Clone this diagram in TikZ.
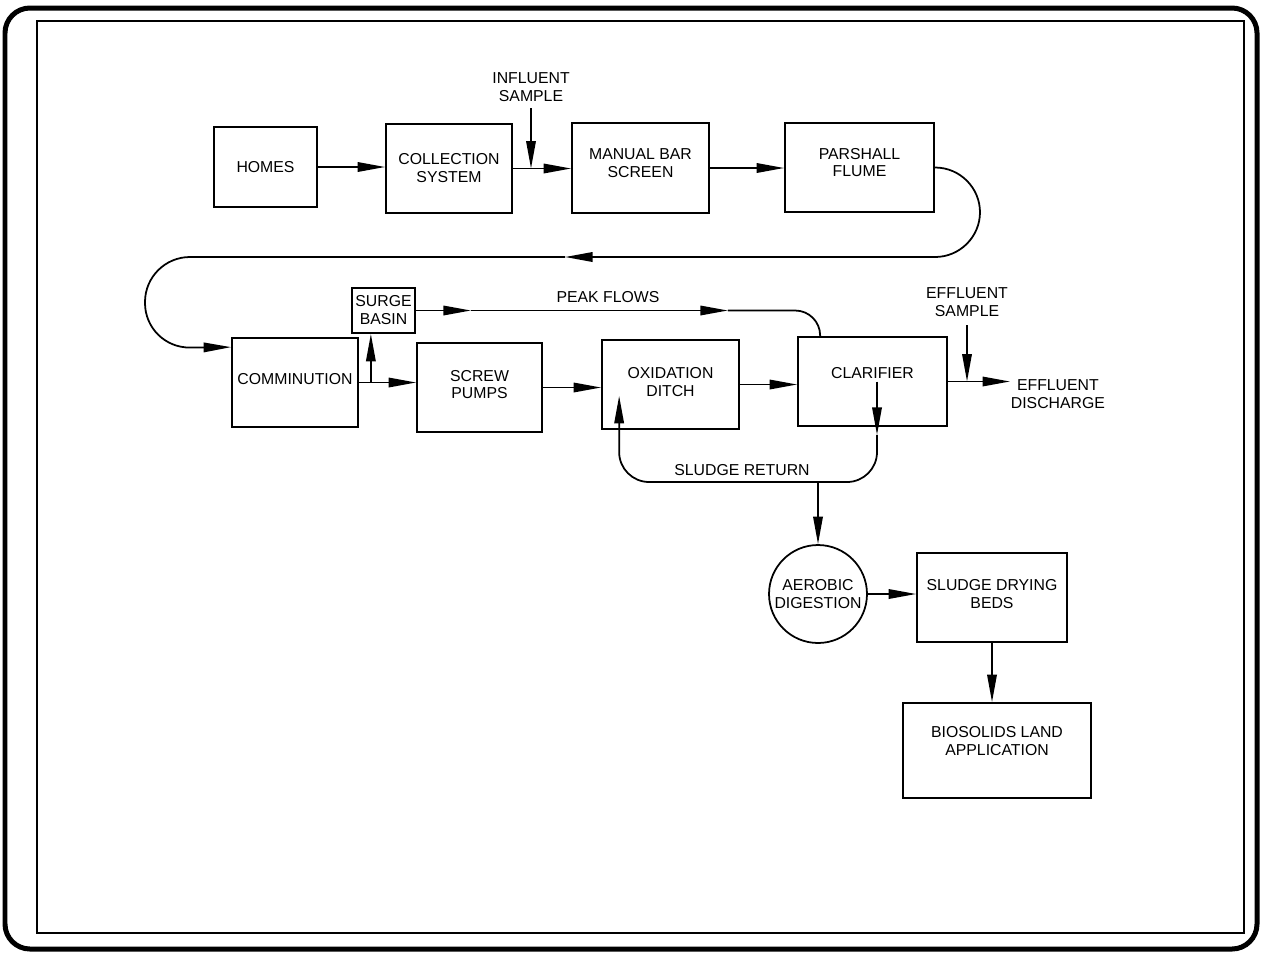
\documentclass[tikz,border=0pt]{standalone}
\usepackage{fontspec}
\setmainfont{Liberation Sans}
\usepackage{tikz}
\usetikzlibrary{arrows.meta,calc,positioning}

\begin{document}
\begin{tikzpicture}[x=0.02cm, y=-0.02cm, line width=1pt, >={Triangle[length=0.55cm,width=0.19cm]}, every node/.style={font=\fontsize{9}{10.2}\selectfont, align=center, inner sep=0pt}, unit/.style={draw, minimum height=1.78cm}, lift/.style={text depth=#1}, tank/.style={draw, circle, minimum size=1.96cm}]

\useasboundingbox (0,0) rectangle (1263,954);
\draw[line width=0.1cm, rounded corners=0.5cm] (5,8) rectangle (1257,949);
\draw[line width=0.6pt] (37,21) rectangle (1244,933);

\node[unit, minimum width=2.06cm, minimum height=1.6cm] (homes) at (265.5,167) {HOMES};
\node[unit, minimum width=2.52cm] (coll) at (449,168.5) {COLLECTION\\SYSTEM};
\node[unit, minimum width=2.74cm, minimum height=1.8cm, lift=0.2cm] (screen) at (640.5,168) {MANUAL BAR\\SCREEN};
\node[unit, minimum width=2.98cm, lift=0.2cm] (flume) at (859.5,167.5) {PARSHALL\\FLUME};
\node[unit, minimum width=2.52cm, lift=0.15cm] (comm) at (295,382.5) {COMMINUTION};
\node[draw, minimum width=1.26cm, minimum height=0.9cm] (surge) at (383.5,310.5) {SURGE\\BASIN};
\node[unit, minimum width=2.5cm, lift=0.12cm] (pumps) at (479.5,387.5) {SCREW\\PUMPS};
\node[unit, minimum width=2.74cm, lift=0.1cm] (ditch) at (670.5,384.5) {OXIDATION\\DITCH};
\node[unit, minimum width=2.98cm, lift=0.36cm] (clar) at (872.5,381.5) {CLARIFIER};
\node[tank] (dig) at (818,594) {AEROBIC\\DIGESTION};
\node[unit, minimum width=3cm, lift=0.14cm] (beds) at (992,597.5) {SLUDGE DRYING\\BEDS};
\node[unit, minimum width=3.76cm, minimum height=1.9cm, lift=0.38cm] (bio) at (997,750.5) {BIOSOLIDS LAND\\APPLICATION};

\node (insample) at (531,87) {INFLUENT\\SAMPLE};
\node (peak) at (608,297) {PEAK FLOWS};
\node (effsam) at (967,302) {EFFLUENT\\SAMPLE};
\node[anchor=west] (effdis) at (1010,394) {EFFLUENT\\DISCHARGE};
\node (slret) at (742,470) {SLUDGE RETURN};

\coordinate (ret) at (565,257);
\coordinate (commin) at ($(comm.north west)+(0,10)$);
\coordinate (tee) at ($(comm.east)+(12,0)$);
\coordinate (pk1) at ($(surge.east)+(55,0)$);
\coordinate (pk2) at ($(surge.east)+(312,0)$);
\coordinate (pkend) at ($(clar.north west)+(23,0)$);
\coordinate (sl0) at ($(clar.center)+(4.5,0)$);
\coordinate (sl1) at ($(clar.south)+(4.5,8)$);
\coordinate (sl2) at ($(ditch.south west)+(18,-34)$);
\coordinate (sr) at (818,482);

\draw[->] (homes.east) -- (homes.east -| coll.west);
\draw[->] (coll.east) -- (coll.east -| screen.west);
\draw[->] (insample.south) ++(0,6) -- (insample.south |- coll.east);
\draw[->] (screen.east) -- (screen.east -| flume.west);
\draw[->, rounded corners=0.9cm] (flume.east) -- (980,167.5) -- (980,257) -- (ret);
\draw[->, rounded corners=0.9cm] (ret) -- (145,257) -- (145,348) -- (commin);
\draw[->] (comm.east) -- (comm.east -| pumps.west);
\draw[->] (tee) -- (tee |- surge.south);
\draw[->] (surge.east) -- (pk1);
\draw[->] (pk1) -- (pk2);
\draw[rounded corners=0.5cm] (pk2) -- (pkend |- pk2) -- (pkend);
\draw[->] (pumps.east) -- (pumps.east -| ditch.west);
\draw[->] (ditch.east) -- (ditch.east -| clar.west);
\draw[->] (clar.east) -- (clar.east -| effdis.west);
\draw[->] (effsam.south) ++(0,8) -- (effsam.south |- clar.east);
\draw[->] (sl0) -- (sl1);
\draw[->, rounded corners=0.6cm] (sl1) -- (sl1 |- sr) -- (sl2 |- sr) -- (sl2);
\draw[->] (sr) -- (dig.north);
\draw[->] (dig.east) -- (dig.east -| beds.west);
\draw[->] (beds.south) -- (beds.south |- bio.north);
\end{tikzpicture}
\end{document}
